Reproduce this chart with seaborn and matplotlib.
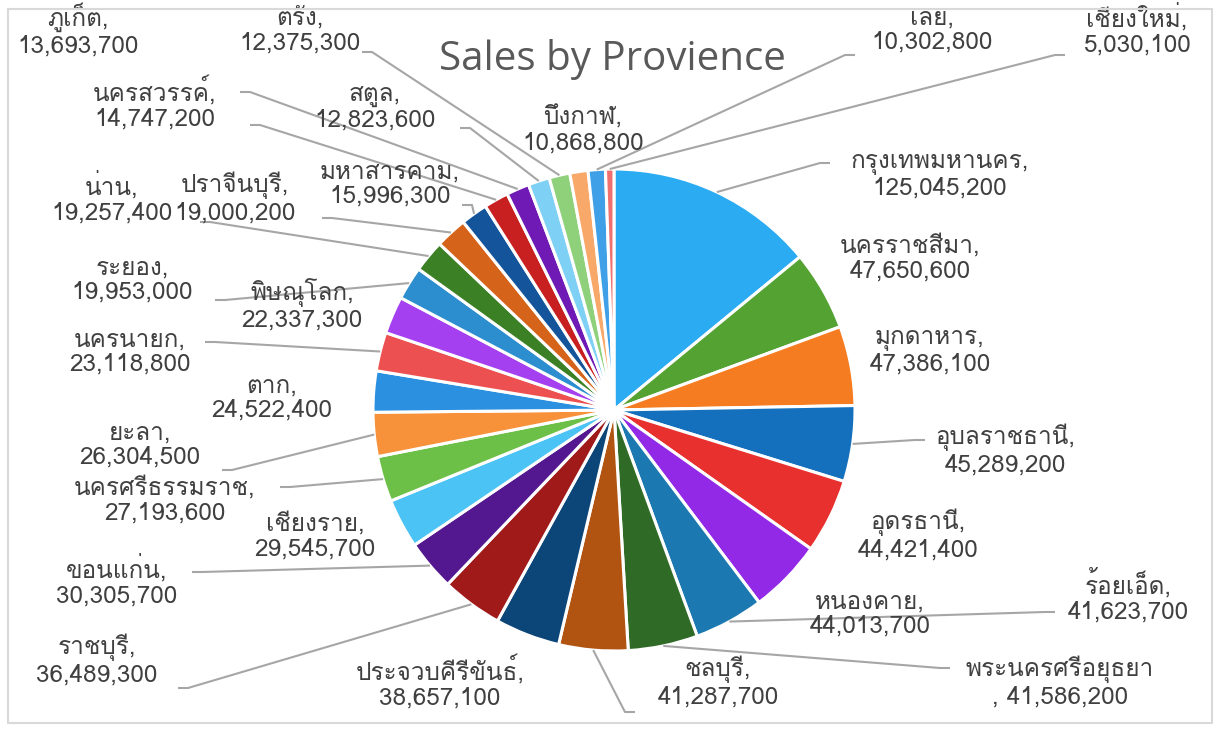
import matplotlib
matplotlib.use('Agg')
import numpy as np
import matplotlib.pyplot as plt
import seaborn as sns
from matplotlib import font_manager
from matplotlib.ft2font import FT2Font
from matplotlib.patches import Rectangle

provinces = ['กรุงเทพมหานคร', 'นครราชสีมา', 'มุกดาหาร', 'อุบลราชธานี', 'อุดรธานี',
             'หนองคาย', 'ร้อยเอ็ด', 'พระนครศรีอยุธยา', 'ชลบุรี', 'ประจวบคีรีขันธ์',
             'ราชบุรี', 'ขอนแก่น', 'เชียงราย', 'นครศรีธรรมราช', 'ยะลา',
             'ตาก', 'นครนายก', 'พิษณุโลก', 'ระยอง', 'น่าน',
             'ปราจีนบุรี', 'มหาสารคาม', 'นครสวรรค์', 'ภูเก็ต', 'สตูล',
             'ตรัง', 'บึงกาฬ', 'เลย', 'เชียงใหม่']
sales = [125045200, 47650600, 47386100, 45289200, 44421400,
         44013700, 41623700, 41586200, 41287700, 38657100,
         36489300, 30305700, 29545700, 27193600, 26304500,
         24522400, 23118800, 22337300, 19953000, 19257400,
         19000200, 15996300, 14747200, 13693700, 12823600,
         12375300, 10868800, 10302800, 5030100]
slice_colors = ['#2aabf2', '#53a232', '#f57c21', '#1470bd', '#e8302f',
                '#9129e6', '#1c78b0', '#2f6b26', '#b25411', '#0c4577',
                '#a01a1a', '#53178f', '#4cc3f5', '#6cbf47', '#f7913a',
                '#2b90e0', '#ec5050', '#a440f0', '#2d8ecf', '#3c8025',
                '#d5641a', '#14549a', '#c82020', '#6f1ab5', '#7fd0f5',
                '#8fd07a', '#f8a868', '#3fa0e8', '#f07070']

# label centres (pixels from top-left) and leader line start at the text
label_pos = [(940, 176), (910, 258), (930, 352), (1005, 450), (918, 535),
             (870, 614), (1128, 596), (1060, 682), (718, 682), (440, 682),
             (97, 660), (117, 581), (315, 536), (165, 500), (140, 445),
             (272, 398), (130, 352), (302, 305), (132, 280), (112, 198),
             (235, 198), (390, 184), (155, 103), (78, 30), (375, 108),
             (300, 30), (583, 130), (932, 30), (1137, 30)]
leader_from = [(830, 163), None, None, (925, 440), None,
               None, (1055, 612), (950, 668), (635, 712), None,
               (178, 688), (192, 572), None, (280, 487), (222, 470),
               None, (205, 342), None, (215, 300), (200, 222),
               (322, 218), (462, 205), (250, 125), (240, 92), (460, 128),
               (362, 52), None, (855, 55), (1065, 55)]

W, H = 1220, 732
CX, CY, R = 614, 410, 241

sns.set_style('white')

# find an installed font that covers Thai
thai_font = None
for f in font_manager.fontManager.ttflist:
    try:
        if 0x0E01 in FT2Font(f.fname).get_charmap():
            thai_font = f.name
            break
    except Exception:
        pass
families = [thai_font, 'DejaVu Sans'] if thai_font else ['DejaVu Sans']
plt.rcParams['font.family'] = families

fig = plt.figure(figsize=(W / 100, H / 100), dpi=100)
ax = fig.add_axes([0, 0, 1, 1])

wedges, _ = ax.pie(sales, colors=sns.color_palette(slice_colors), startangle=90,
                   counterclock=False, center=(CX, H - CY), radius=R,
                   wedgeprops=dict(edgecolor='white', linewidth=2.2))
ax.set_xlim(0, W)
ax.set_ylim(0, H)
ax.set_aspect('equal')
ax.axis('off')

# chart border
fig.patches.append(Rectangle((8 / W, 9 / H), 1204 / W, 714 / H, transform=fig.transFigure,
                             fill=False, edgecolor='#d9d9d9', linewidth=1.5))

ax.text(612, H - 60, 'Sales by Provience', fontsize=29, color='#595959',
        ha='center', va='center', family=['Open Sans', 'DejaVu Sans'])

labels = [f'{p},\n{v:,}' for p, v in zip(provinces, sales)]
labels[7] = f'{provinces[7]}\n, {sales[7]:,}'

for w, lab, pos, lead in zip(wedges, labels, label_pos, leader_from):
    ax.text(pos[0], H - pos[1], lab, fontsize=17.5, color='#404040',
            ha='center', va='center', linespacing=1.1)
    if lead is not None:
        mid = np.deg2rad((w.theta1 + w.theta2) / 2)
        px, py = CX + R * np.cos(mid), (H - CY) + R * np.sin(mid)
        lx, ly = lead[0], H - lead[1]
        step = 10 if px > lx else -10
        ax.plot([lx, lx + step, px], [ly, ly, py], color='#a6a6a6', linewidth=1.5,
                solid_capstyle='butt')

fig.savefig('out.png', dpi=100, facecolor='white')
